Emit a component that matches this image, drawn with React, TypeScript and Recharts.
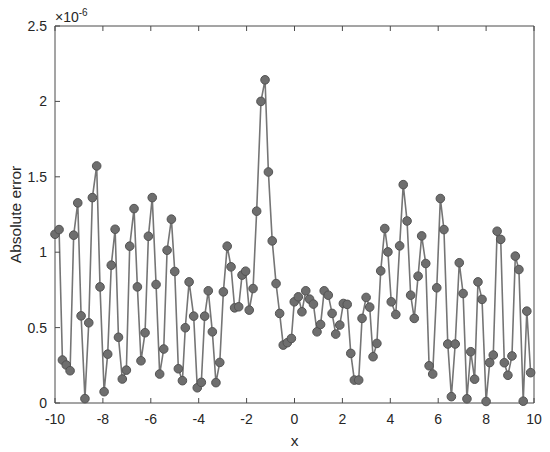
import React from 'react';
import { LineChart, Line, XAxis, YAxis } from 'recharts';

// x positions of the samples
const xValues: number[] = [
  -10.0, -9.83, -9.69, -9.53, -9.37, -9.22, -9.05, -8.91, -8.75, -8.59,
  -8.44, -8.26, -8.12, -7.95, -7.80, -7.65, -7.49, -7.35, -7.19, -7.02,
  -6.88, -6.70, -6.56, -6.41, -6.24, -6.10, -5.94, -5.78, -5.63, -5.46,
  -5.32, -5.14, -5.00, -4.85, -4.68, -4.56, -4.40, -4.21, -4.06, -3.89,
  -3.75, -3.60, -3.43, -3.28, -3.12, -2.97, -2.81, -2.65, -2.50, -2.33,
  -2.19, -2.04, -1.89, -1.73, -1.58, -1.40, -1.23, -1.09, -0.93, -0.77,
  -0.62, -0.47, -0.30, -0.13, -0.01, 0.16, 0.31, 0.47, 0.63, 0.79,
  0.94, 1.09, 1.24, 1.41, 1.57, 1.72, 1.89, 2.04, 2.20, 2.35,
  2.50, 2.68, 2.82, 2.99, 3.14, 3.28, 3.44, 3.60, 3.77, 3.90,
  4.04, 4.23, 4.39, 4.54, 4.70, 4.85, 5.00, 5.16, 5.31, 5.48,
  5.62, 5.77, 5.94, 6.09, 6.24, 6.40, 6.55, 6.71, 6.88, 7.04,
  7.20, 7.36, 7.52, 7.66, 7.83, 8.00, 8.15, 8.30, 8.46, 8.61,
  8.76, 8.91, 9.08, 9.22, 9.37, 9.55, 9.70, 9.86,
];

// absolute error, in units of 1e-6
const absErrorE6: number[] = [
  1.119, 1.150, 0.285, 0.252, 0.214, 1.113, 1.327, 0.578, 0.029, 0.532,
  1.362, 1.572, 0.770, 0.075, 0.324, 0.914, 1.152, 0.436, 0.159, 0.218,
  1.040, 1.289, 0.770, 0.280, 0.466, 1.106, 1.362, 0.786, 0.192, 0.358,
  1.013, 1.219, 0.872, 0.227, 0.148, 0.499, 0.803, 0.576, 0.101, 0.137,
  0.576, 0.744, 0.472, 0.135, 0.269, 0.737, 1.040, 0.903, 0.631, 0.638,
  0.848, 0.874, 0.616, 0.759, 1.272, 2.000, 2.143, 1.532, 1.075, 0.792,
  0.594, 0.384, 0.400, 0.428, 0.671, 0.704, 0.605, 0.744, 0.689, 0.656,
  0.472, 0.521, 0.744, 0.715, 0.594, 0.457, 0.517, 0.660, 0.654, 0.329,
  0.152, 0.152, 0.561, 0.700, 0.636, 0.307, 0.395, 0.876, 1.157, 1.002,
  0.671, 0.587, 1.042, 1.448, 1.207, 0.715, 0.561, 0.841, 1.108, 0.925,
  0.247, 0.192, 0.764, 1.356, 1.150, 0.391, 0.042, 0.391, 0.930, 0.726,
  0.028, 0.340, 0.158, 0.803, 0.687, 0.010, 0.268, 0.318, 1.139, 1.085,
  0.267, 0.184, 0.312, 0.974, 0.885, 0.012, 0.609, 0.201,
];

const xTicks: number[] = [-10, -8, -6, -4, -2, 0, 2, 4, 6, 8, 10];
const yTicks: number[] = [0, 0.5, 1, 1.5, 2, 2.5];
const xLabel = 'x';
const yLabel = 'Absolute error';
const yExponent = '-6';

const data = xValues.map((x, i) => ({ x, y: absErrorE6[i] }));

const FONT = '"Liberation Sans", Arial, Helvetica, sans-serif';
const TEXT = '#262626';
const AXIS = '#4a4a4a';

const YLabel = (props: any) => {
  const vb = props.viewBox || { x: 0, y: 26, width: 55, height: 377 };
  const cx = 15;
  const cy = vb.y + vb.height / 2;
  const right = vb.x + vb.width;
  return (
    <g>
      <text
        x={cx}
        y={cy}
        transform={`rotate(-90, ${cx}, ${cy})`}
        textAnchor="middle"
        dominantBaseline="central"
        fontFamily={FONT}
        fontSize={15.5}
        fill={TEXT}
      >
        {yLabel}
      </text>
      <text x={right} y={vb.y - 4} fontFamily={FONT} fontSize={14} fill={TEXT}>
        ×10
        <tspan dy={-6} fontSize={10}>
          {yExponent}
        </tspan>
      </text>
    </g>
  );
};

export default function App() {
  const tickStyle = { fill: TEXT, fontSize: 14, fontFamily: FONT };
  return (
    <div style={{ position: 'absolute', left: 0, top: 0, width: 550, height: 452, background: '#fff' }}>
      <LineChart width={550} height={452} data={data} margin={{ top: 25, right: 15, bottom: 4, left: 0 }}>
        <XAxis
          xAxisId="top"
          orientation="top"
          dataKey="x"
          type="number"
          domain={[-10, 10]}
          ticks={xTicks}
          height={1}
          tickSize={-5}
          tickFormatter={() => ''}
          axisLine={{ stroke: AXIS, strokeWidth: 1 }}
          tickLine={{ stroke: AXIS, strokeWidth: 1 }}
        />
        <XAxis
          xAxisId="bottom"
          orientation="bottom"
          dataKey="x"
          type="number"
          domain={[-10, 10]}
          ticks={xTicks}
          height={45}
          tickSize={-5}
          tickMargin={16}
          tick={tickStyle}
          axisLine={{ stroke: AXIS, strokeWidth: 1 }}
          tickLine={{ stroke: AXIS, strokeWidth: 1 }}
          label={{ value: xLabel, position: 'insideBottom', offset: 2, fill: TEXT, fontSize: 15.5, fontFamily: FONT }}
        />
        <YAxis
          yAxisId="left"
          orientation="left"
          type="number"
          domain={[0, 2.5]}
          ticks={yTicks}
          width={55}
          tickSize={-5}
          tickMargin={13}
          tick={tickStyle}
          axisLine={{ stroke: AXIS, strokeWidth: 1 }}
          tickLine={{ stroke: AXIS, strokeWidth: 1 }}
          label={<YLabel />}
        />
        <YAxis
          yAxisId="right"
          orientation="right"
          type="number"
          domain={[0, 2.5]}
          ticks={yTicks}
          width={1}
          tickSize={-5}
          tickFormatter={() => ''}
          axisLine={{ stroke: AXIS, strokeWidth: 1 }}
          tickLine={{ stroke: AXIS, strokeWidth: 1 }}
        />
        <Line
          xAxisId="bottom"
          yAxisId="left"
          type="linear"
          dataKey="y"
          stroke="#757575"
          strokeWidth={1.6}
          dot={{ r: 4.3, fill: '#6e6e6e', stroke: '#535353', strokeWidth: 1 }}
          activeDot={false}
          isAnimationActive={false}
        />
      </LineChart>
    </div>
  );
}
